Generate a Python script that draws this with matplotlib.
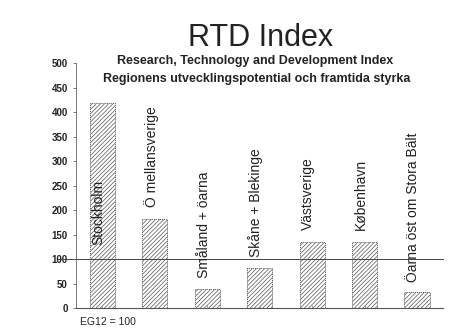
import matplotlib
matplotlib.use("Agg")
import matplotlib.pyplot as plt

regions = ["Stockholm", "Ö mellansverige", "Småland + öarna", "Skåne + Blekinge",
           "Västsverige", "København", "Öarna öst om Stora Bält"]
values = [418, 182, 39, 82, 135, 135, 33]
label_base = [128, 206, 61, 104, 159, 159, 53]
yticks = [0, 50, 100, 150, 200, 250, 300, 350, 400, 450, 500]
reference_level = 100

plt.rcParams['font.family'] = ['Liberation Sans', 'DejaVu Sans']
plt.rcParams['hatch.linewidth'] = 0.5
plt.rcParams['hatch.color'] = '#555555'

fig = plt.figure(figsize=(4.76, 3.32), dpi=100)
ax = fig.add_axes([0.16, 0.072, 0.771, 0.738])

x = list(range(len(regions)))
ax.bar(x, values, width=0.48, color='white', edgecolor='#555555', hatch='////////',
       linewidth=0.7, linestyle=(0, (1, 1)))
for xi, lb, name in zip(x, label_base, regions):
    ax.text(xi - 0.07, lb, name, rotation=90, ha='center', va='bottom',
            fontsize=10, color='#222222')

ax.axhline(reference_level, xmin=-0.05, xmax=1.0, color='#444444', lw=0.7, clip_on=False)

ax.set_xlim(-0.5, 6.5)
ax.set_ylim(0, 500)
ax.set_yticks(yticks)
ax.set_yticklabels([str(v) for v in yticks], fontsize=7, fontweight='bold', color='#222222')
ax.tick_params(axis='y', length=2, width=0.6, pad=4, color='#666666')
ax.set_xticks(x)
ax.set_xticklabels([])
ax.tick_params(axis='x', length=2, width=0.5, direction='in', color='#888888')
for s in ['top', 'right']:
    ax.spines[s].set_visible(False)
ax.spines['left'].set_color('#666666')
ax.spines['left'].set_linewidth(0.6)
ax.spines['bottom'].set_color('#555555')
ax.spines['bottom'].set_linewidth(0.8)

fig.text(0.547, 0.885, "RTD Index", ha='center', va='center', fontsize=22, color='#222222')
fig.text(0.537, 0.816, "Research, Technology and Development Index", ha='center', va='center',
         fontsize=9, color='#222222', fontweight='bold')
fig.text(0.54, 0.762, "Regionens utvecklingspotential och framtida styrka", ha='center', va='center',
         fontsize=9, color='#222222', fontweight='bold')
fig.text(0.168, 0.03, "EG12 = 100", ha='left', va='center', fontsize=7.5, color='#222222')

fig.savefig("out.png", dpi=100)
